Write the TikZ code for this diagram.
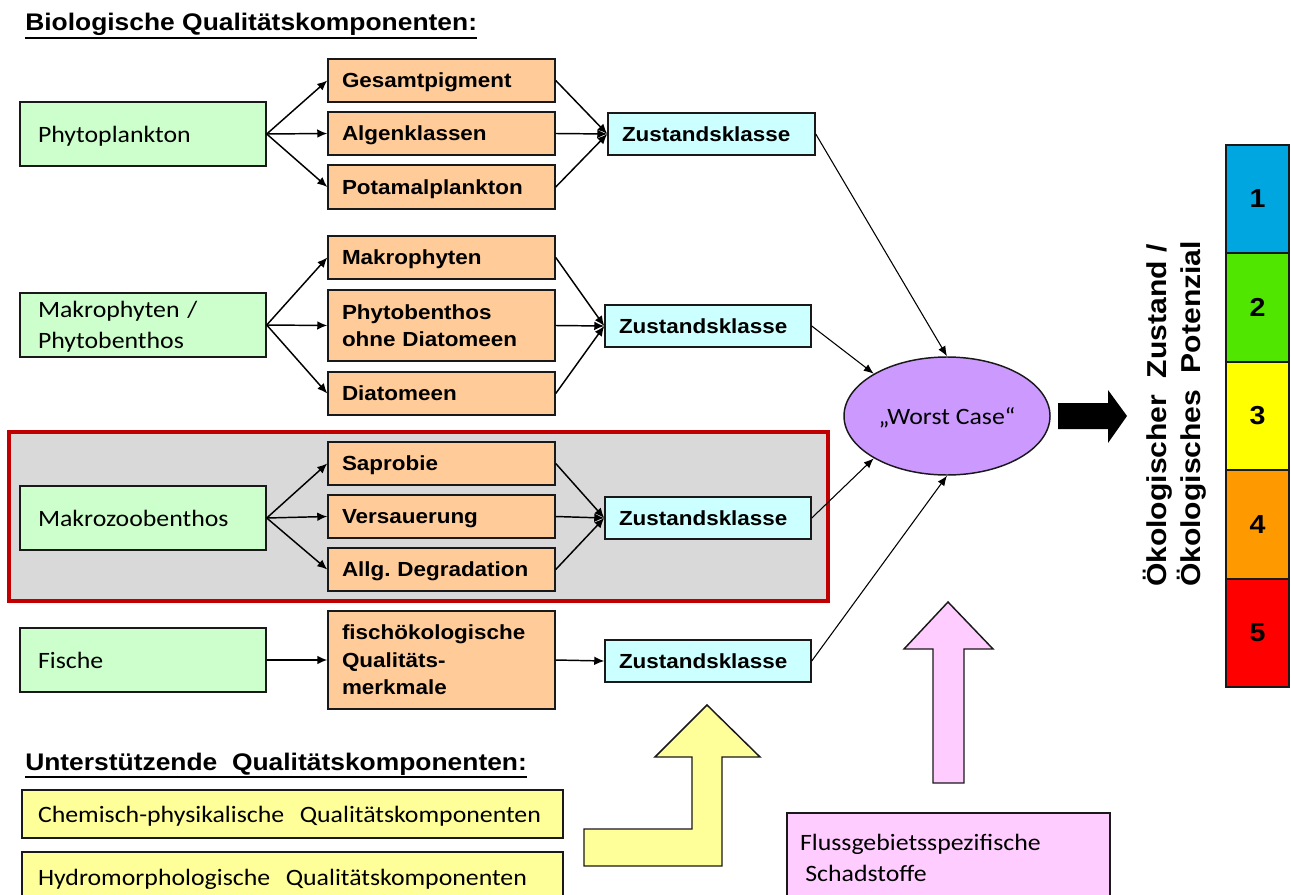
\documentclass[tikz,border=0pt]{standalone}
\usepackage{fontspec}
\usetikzlibrary{arrows.meta,shapes.geometric}
\newfontfamily\fcal[FakeStretch=1.1]{Carlito}
\newfontfamily\farial[FakeStretch=1.1]{Liberation Sans}
\frenchspacing
\definecolor{cgreen}{HTML}{CCFFCC}
\definecolor{corange}{HTML}{FFCC99}
\definecolor{ccyan}{HTML}{CCFFFF}
\definecolor{cviolet}{HTML}{CC99FF}
\definecolor{cyellow}{HTML}{FFFF99}
\definecolor{cpink}{HTML}{FFCCFF}
\definecolor{cgray}{HTML}{D9D9D9}
\definecolor{cred}{HTML}{C00000}
\definecolor{bone}{HTML}{00A6E0}
\definecolor{btwo}{HTML}{50E600}
\definecolor{bthree}{HTML}{FFFF00}
\definecolor{bfour}{HTML}{FF9900}
\definecolor{bfive}{HTML}{FF0000}
\newcommand\fstrut{\rule[-0.22em]{0pt}{1.15em}}
\newcommand\mybox[8]{\node[#7, inner xsep={#6*0.75pt}, inner ysep=0pt, text width={(#4-#2-2*#6)*0.75pt}, minimum height={(#5-#3)*0.75pt}, align=left] (#1) at ({(#2+#4)/2},{(#3+#5)/2}) {\fstrut#8\fstrut};}
\tikzset{
  base/.style={draw=black!90, line width=1.1pt},
  calfont/.style={font=\fcal\fontsize{17.6}{23.5}\selectfont},
  arfont/.style={font=\farial\bfseries\fontsize{15.3}{20.5}\selectfont},
  gbox/.style={base, fill=cgreen, calfont},
  obox/.style={base, fill=corange, arfont},
  zbox/.style={base, fill=ccyan, arfont},
  ybox/.style={base, fill=cyellow, calfont},
  pbox/.style={base, fill=cpink, calfont},
  barbox/.style={draw=black!90, line width=1.1pt, minimum width=63*0.75pt, minimum height=108.4*0.75pt, inner sep=0pt, font=\farial\bfseries\fontsize{19.5}{22}\selectfont},
  conn/.style={line width=1.1pt, -{Latex[length=7.5pt,width=6.5pt]}},
  toell/.style={line width=0.8pt, -{Latex[length=7.5pt,width=6pt]}},
  heading/.style={anchor=base west, inner sep=0pt, font=\farial\bfseries\fontsize{18}{22}\selectfont},
  blockarrow/.style={draw=black!90, line width=1.1pt, line join=miter}
}
\begin{document}
\begin{tikzpicture}[x=0.75pt,y=-0.75pt]
\useasboundingbox (0,0) rectangle (1291,895);
\clip (0,0) rectangle (1291,895);

% headings
\node[heading] (t1) at (25,31) {Biologische Qualitätskomponenten:};
\draw[line width=1.3pt] ([yshift=-1.5pt]t1.south west) -- ([yshift=-1.5pt]t1.south east);
\node[heading] (t2) at (25,770) {Unterstützende\ \ Qualitätskomponenten:};
\draw[line width=1.3pt] ([yshift=-1.5pt]t2.south west) -- ([yshift=-1.5pt]t2.south east);

% highlighted group
\draw[draw=cred, line width=2.6pt, fill=cgray] (9,432) rectangle (828,601);

% green boxes
\mybox{gp}{20}{102}{266}{166}{18}{gbox}{Phytoplankton}
\mybox{gm}{20}{293}{266}{357}{18}{gbox}{Makrophyten /\\Phytobenthos}
\mybox{gz}{20}{486}{266}{550}{18}{gbox}{Makrozoobenthos}
\mybox{gf}{20}{628}{266}{692}{18}{gbox}{Fische}

% orange boxes
\mybox{o1}{328}{59}{555}{102}{14}{obox}{Gesamtpigment}
\mybox{o2}{328}{112}{555}{155}{14}{obox}{Algenklassen}
\mybox{o3}{328}{165}{555}{209}{14}{obox}{Potamalplankton}
\mybox{o4}{328}{236}{555}{279}{14}{obox}{Makrophyten}
\mybox{o5}{328}{290}{555}{361}{14}{obox}{Phytobenthos\\ohne Diatomeen}
\mybox{o6}{328}{372}{555}{415}{14}{obox}{Diatomeen}
\mybox{o7}{328}{442}{555}{485}{14}{obox}{Saprobie}
\mybox{o8}{328}{495}{555}{538}{14}{obox}{Versauerung}
\mybox{o9}{328}{548}{555}{591}{14}{obox}{\mbox{Allg. Degradation}}
\mybox{o10}{328}{611}{555}{709}{14}{obox}{fischökologische\\Qualitäts-\\merkmale}

% cyan boxes
\mybox{z1}{608}{113}{815}{155}{14}{zbox}{Zustandsklasse}
\mybox{z2}{605}{305}{811}{347}{14}{zbox}{Zustandsklasse}
\mybox{z3}{605}{497}{811}{539}{14}{zbox}{Zustandsklasse}
\mybox{z4}{605}{640}{811}{682}{14}{zbox}{Zustandsklasse}

% worst case
\node[ellipse, draw=black!90, line width=1.1pt, fill=cviolet, minimum width=206*0.75pt, minimum height=118*0.75pt, inner sep=0pt, calfont] (we) at (947,416) {\fstrut„Worst Case“};

% supporting components
\mybox{y1}{22}{790}{563}{838}{16}{ybox}{\mbox{Chemisch-physikalische\ \ Qualitätskomponenten}}
\mybox{y2}{22}{852}{563}{902}{16}{ybox}{\mbox{Hydromorphologische\ \ Qualitätskomponenten}}
\mybox{ps}{787}{813}{1110}{902}{13}{pbox}{Flussgebietsspezifische\\\hspace*{4pt}Schadstoffe}

% connectors
\foreach \o in {o1,o2,o3} {\draw[conn] (gp.east) -- (\o.west); \draw[conn] (\o.east) -- (z1.west);}
\foreach \o in {o4,o5,o6} {\draw[conn] (gm.east) -- (\o.west); \draw[conn] (\o.east) -- (z2.west);}
\foreach \o in {o7,o8,o9} {\draw[conn] (gz.east) -- (\o.west); \draw[conn] (\o.east) -- (z3.west);}
\draw[conn] (gf.east) -- (o10.west);
\draw[conn] (o10.east) -- (z4.west);
\draw[toell] (z1.east) -- (we.north);
\draw[toell] (z2.east) -- (we.150);
\draw[toell] (z3.east) -- (we.210);
\draw[toell] (z4.east) -- (we.south);

% block arrows
\fill[black] (1058,403) -- (1108,403) -- (1108,390) -- (1127,416) -- (1108,443) -- (1108,429) -- (1058,429) -- cycle;
\draw[blockarrow, fill=cyellow] (707,705) -- (760,757) -- (722,757) -- (722,866) -- (584,866) -- (584,829) -- (692,829) -- (692,757) -- (655,757) -- cycle;
\draw[blockarrow, fill=cpink] (948,602) -- (993,649) -- (964,649) -- (964,783) -- (933,783) -- (933,649) -- (904,649) -- cycle;

% result label
\node[rotate=90, align=left, inner sep=0pt, font=\farial\bfseries\fontsize{20.5}{25.5}\selectfont] (oz) at (1175,414) {Ökologischer\ \ Zustand /\\Ökologisches\ \ Potenzial};

% class bar
\node[barbox, fill=bone] (c1) at (1257.5,199) {1};
\node[barbox, fill=btwo] (c2) at (1257.5,307.5) {2};
\node[barbox, fill=bthree] (c3) at (1257.5,416) {3};
\node[barbox, fill=bfour] (c4) at (1257.5,524.5) {4};
\node[barbox, fill=bfive] (c5) at (1257.5,633) {5};
\end{tikzpicture}
\end{document}
